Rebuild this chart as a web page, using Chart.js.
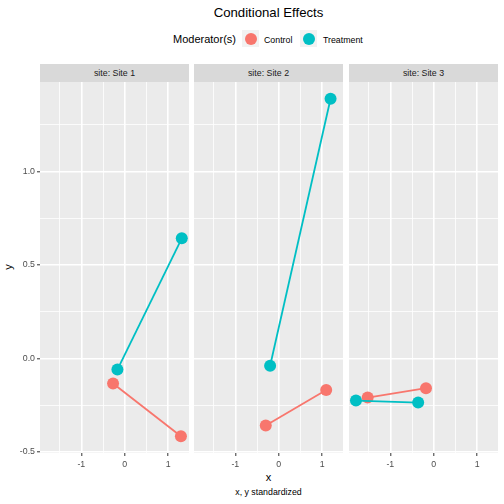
<!DOCTYPE html>
<html>
<head>
<meta charset="utf-8">
<script src="https://cdn.jsdelivr.net/npm/chart.js@4.4.0/dist/chart.umd.min.js"></script>
<style>
  body { margin: 0; background: #fff; font-family: "Liberation Sans", Arial, sans-serif; }
  #wrap { position: relative; width: 504px; height: 504px; overflow: hidden; }
  .abs { position: absolute; white-space: nowrap; }
  .strip { position: absolute; top: 64px; height: 18px; background: #D9D9D9; color: #1A1A1A;
           font-size: 8.8px; line-height: 18px; text-align: center; }
  canvas { position: absolute; }
  .key { position: absolute; top: 30px; width: 17px; height: 17px; background: #F2F2F2; }
  .key span { position: absolute; left: 2.5px; top: 2.5px; width: 12px; height: 12px; border-radius: 50%; }
</style>
</head>
<body>
<div id="wrap">
  <div class="abs" style="left:0;width:537px;top:5px;font-size:13.2px;text-align:center;color:#000">Conditional Effects</div>

  <div class="abs" style="left:173px;top:33px;font-size:11px;color:#000">Moderator(s)</div>
  <div class="key" style="left:242px"><span style="background:#F8766D"></span></div>
  <div class="abs" style="left:264px;top:35px;font-size:8.8px;color:#000">Control</div>
  <div class="key" style="left:300px"><span style="background:#00BFC4"></span></div>
  <div class="abs" style="left:323px;top:35px;font-size:8.8px;color:#000">Treatment</div>

  <div class="abs" style="left:0;width:537px;top:471px;font-size:11px;text-align:center;color:#000">x</div>
  <div class="abs" style="left:0;width:537px;top:487px;font-size:8.8px;text-align:center;color:#000">x, y standardized</div>
  <div class="abs" style="left:5px;top:261px;font-size:11px;color:#000;transform:rotate(-90deg);transform-origin:50% 50%">y</div>
</div>

<script>
// facets and groups
const sites = ["Site 1", "Site 2", "Site 3"];
const moderators = ["Control", "Treatment"];
const colors = ["#F8766D", "#00BFC4"];

// values, one pair of points per site
const controlX = [[-0.27, 1.29], [-0.30, 1.09], [-1.52, -0.18]];
const controlY = [[-0.135, -0.417], [-0.36, -0.17], [-0.21, -0.16]];
const treatmentX = [[-0.17, 1.31], [-0.20, 1.19], [-1.79, -0.36]];
const treatmentY = [[-0.06, 0.643], [-0.04, 1.39], [-0.226, -0.237]];

// axis ticks (major ones get labels)
const xTicks = [-1.5, -1, -0.5, 0, 0.5, 1];
const xLabels = [-1, 0, 1];
const yTicks = [-0.5, -0.25, 0, 0.25, 0.5, 0.75, 1, 1.25];
const yLabels = [-0.5, 0, 0.5, 1];

const xRange = [-1.95, 1.476];
const yRange = [-0.507, 1.48];

const panelLeft = [40, 194, 349];
const panelWidth = 149;
const panelTop = 82;
const panelHeight = 371;
const axisBelow = 20;

const wrap = document.getElementById("wrap");

// grey panel background behind the grid
const panelBg = {
  id: "panelBg",
  beforeDraw(chart) {
    const { ctx, chartArea: a } = chart;
    ctx.save();
    ctx.fillStyle = "#EBEBEB";
    ctx.fillRect(a.left, a.top, a.right - a.left, a.bottom - a.top);
    ctx.restore();
  },
};

const isMajor = (v, list) => list.some((m) => Math.abs(m - v) < 1e-9);
const noPad = (scale) => {
  scale.paddingTop = 0;
  scale.paddingBottom = 0;
  scale.paddingLeft = 0;
  scale.paddingRight = 0;
};

sites.forEach((site, i) => {
  const strip = document.createElement("div");
  strip.className = "strip";
  strip.style.left = panelLeft[i] + "px";
  strip.style.width = panelWidth + "px";
  strip.textContent = "site: " + site;
  wrap.appendChild(strip);

  const first = i === 0;
  const yAxisW = first ? 40 : 0;
  const canvas = document.createElement("canvas");
  const cw = panelWidth + yAxisW;
  const ch = panelHeight + axisBelow;
  canvas.width = cw;
  canvas.height = ch;
  canvas.style.width = cw + "px";
  canvas.style.height = ch + "px";
  canvas.style.left = panelLeft[i] - yAxisW + "px";
  canvas.style.top = panelTop + "px";
  wrap.appendChild(canvas);

  const xs = [controlX[i], treatmentX[i]];
  const ys = [controlY[i], treatmentY[i]];

  new Chart(canvas.getContext("2d"), {
    type: "scatter",
    data: {
      datasets: moderators.map((m, k) => ({
        label: m,
        data: xs[k].map((x, j) => ({ x: x, y: ys[k][j] })),
        showLine: true,
        borderColor: colors[k],
        backgroundColor: colors[k],
        borderWidth: 1.8,
        pointRadius: 6,
        pointHoverRadius: 6,
        pointBorderWidth: 0,
        order: moderators.length - k,
      })),
    },
    options: {
      responsive: false,
      animation: false,
      devicePixelRatio: 1,
      layout: { padding: 0, autoPadding: false },
      plugins: { legend: { display: false }, tooltip: { enabled: false } },
      scales: {
        x: {
          type: "linear",
          min: xRange[0],
          max: xRange[1],
          afterBuildTicks: (s) => { s.ticks = xTicks.map((v) => ({ value: v })); },
          afterFit: (s) => { s.height = axisBelow; noPad(s); },
          border: { display: false },
          grid: {
            color: "#FFFFFF",
            lineWidth: (c) => (isMajor(c.tick.value, xLabels) ? 1.6 : 0.8),
            tickColor: (c) => (isMajor(c.tick.value, xLabels) ? "#333333" : "rgba(0,0,0,0)"),
            tickLength: 3,
            tickWidth: 1,
          },
          ticks: {
            padding: 3,
            maxRotation: 0,
            autoSkip: false,
            color: "#4D4D4D",
            font: { family: "Liberation Sans", size: 8.8 },
            callback: (v) => (isMajor(v, xLabels) ? String(v) : ""),
          },
        },
        y: {
          type: "linear",
          min: yRange[0],
          max: yRange[1],
          afterBuildTicks: (s) => { s.ticks = yTicks.map((v) => ({ value: v })); },
          afterFit: (s) => { s.width = yAxisW; noPad(s); },
          border: { display: false },
          grid: {
            color: "#FFFFFF",
            lineWidth: (c) => (isMajor(c.tick.value, yLabels) ? 1.6 : 0.8),
            tickColor: (c) => (isMajor(c.tick.value, yLabels) ? "#333333" : "rgba(0,0,0,0)"),
            drawTicks: first,
            tickLength: 3,
            tickWidth: 1,
          },
          ticks: {
            display: first,
            padding: 2,
            autoSkip: false,
            color: "#4D4D4D",
            font: { family: "Liberation Sans", size: 8.8 },
            callback: (v) => (isMajor(v, yLabels) ? v.toFixed(1) : ""),
          },
        },
      },
    },
    plugins: [panelBg],
  });
});
</script>
</body>
</html>
